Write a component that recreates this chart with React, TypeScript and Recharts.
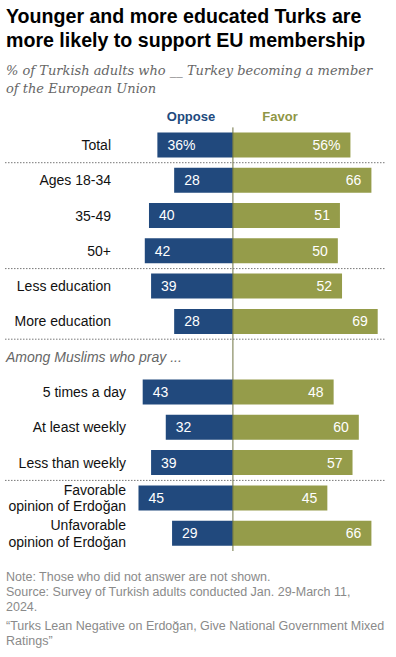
import { Bar, BarChart, LabelList, ReferenceLine, XAxis, YAxis } from "recharts";

const categories = [
  "Total",
  "Ages 18-34",
  "35-49",
  "50+",
  "Less education",
  "More education",
  "Among Muslims who pray ...",
  "5 times a day",
  "At least weekly",
  "Less than weekly",
  "Favorable opinion of Erdoğan",
  "Unfavorable opinion of Erdoğan",
];
const oppose = [36, 28, 40, 42, 39, 28, null, 43, 32, 39, 45, 29];
const favor = [56, 66, 51, 50, 52, 69, null, 48, 60, 57, 45, 66];

// rows that get a dotted rule above them
const dividers = [1, 4, 6, 10];

const OPPOSE = "#21497d";
const FAVOR = "#959c4a";
const FONT = "'Liberation Sans', Arial, sans-serif";

const data = categories.map((name, i) => ({
  name,
  oppose: oppose[i] == null ? null : -(oppose[i] as number),
  favor: favor[i],
}));

const BAND = 423.6 / categories.length;

function CategoryTick(props: any) {
  const { y, payload, index } = props;
  const label: string = payload.value;
  const items = [];
  if (dividers.includes(index)) {
    items.push(
      <line
        key="d"
        x1={5}
        x2={386}
        y1={y - BAND / 2}
        y2={y - BAND / 2}
        stroke="#777"
        strokeDasharray="1.5 1.5"
      />
    );
  }
  if (index === 6) {
    items.push(
      <text key="t" x={6} y={y} dy="0.35em" fontSize={14} fontStyle="italic" fill="#666" fontFamily={FONT}>
        {label}
      </text>
    );
  } else {
    const right = index < 6 ? 111 : 126;
    const parts = label.includes(" opinion")
      ? [label.slice(0, label.indexOf(" opinion")), label.slice(label.indexOf(" opinion") + 1)]
      : [label];
    items.push(
      <text key="t" x={right} y={y} textAnchor="end" fontSize={14} fill="#111" fontFamily={FONT}>
        {parts.map((p, k) => (
          <tspan key={k} x={right} dy={k === 0 ? (parts.length === 1 ? "0.35em" : "-0.25em") : "1.2em"}>
            {p}
          </tspan>
        ))}
      </text>
    );
  }
  return <g>{items}</g>;
}

function valueLabel(side: "left" | "right") {
  return (props: any) => {
    const { x, y, width, height, value, index } = props;
    if (value == null) return null;
    const left = Math.min(x, x + width);
    const right = Math.max(x, x + width);
    const text = `${Math.abs(value)}${index === 0 ? "%" : ""}`;
    return (
      <text
        x={side === "left" ? left + 10 : right - 10}
        y={y + height / 2}
        dy="0.35em"
        textAnchor={side === "left" ? "start" : "end"}
        fill="#fff"
        fontSize={14}
        fontFamily={FONT}
      >
        {text}
      </text>
    );
  };
}

export default function App() {
  return (
    <div
      style={{
        position: "absolute",
        left: 0,
        top: 0,
        width: 396,
        height: 657,
        background: "#fff",
        fontFamily: FONT,
        overflow: "hidden",
      }}
    >
      <div
        style={{
          position: "absolute",
          left: 6,
          top: 4,
          fontSize: 19.6,
          lineHeight: "24px",
          fontWeight: "bold",
          color: "#000",
          whiteSpace: "nowrap",
        }}
      >
        Younger and more educated Turks are
        <br />
        more likely to support EU membership
      </div>
      <div
        style={{
          position: "absolute",
          left: 6,
          top: 62,
          fontSize: 13,
          lineHeight: "18px",
          fontStyle: "italic",
          fontFamily: "'DejaVu Serif', Georgia, serif",
          color: "#666",
          whiteSpace: "nowrap",
        }}
      >
        % of Turkish adults who __ Turkey becoming a member
        <br />
        of the European Union
      </div>
      <div
        style={{
          position: "absolute",
          left: 191,
          top: 109,
          transform: "translateX(-50%)",
          fontSize: 13,
          fontWeight: "bold",
          color: OPPOSE,
        }}
      >
        Oppose
      </div>
      <div
        style={{
          position: "absolute",
          left: 280,
          top: 109,
          transform: "translateX(-50%)",
          fontSize: 13,
          fontWeight: "bold",
          color: "#8f9646",
        }}
      >
        Favor
      </div>
      <div style={{ position: "absolute", left: 0, top: 0 }}>
        <BarChart
          width={396}
          height={657}
          data={data}
          layout="vertical"
          stackOffset="sign"
          barCategoryGap={0}
          margin={{ top: 127.4, right: 12, bottom: 106, left: 0 }}
        >
          <XAxis type="number" hide domain={[-50, 72]} allowDataOverflow />
          <YAxis
            type="category"
            dataKey="name"
            width={128}
            axisLine={false}
            tickLine={false}
            interval={0}
            tick={<CategoryTick />}
          />
          <Bar dataKey="oppose" stackId="a" fill={OPPOSE} barSize={25} isAnimationActive={false}>
            <LabelList dataKey="oppose" content={valueLabel("left")} />
          </Bar>
          <Bar dataKey="favor" stackId="a" fill={FAVOR} barSize={25} isAnimationActive={false}>
            <LabelList dataKey="favor" content={valueLabel("right")} />
          </Bar>
          <ReferenceLine x={0} stroke="#6f7340" strokeWidth={1} />
        </BarChart>
      </div>
      <div
        style={{
          position: "absolute",
          left: 6,
          top: 570,
          fontSize: 12.5,
          lineHeight: "15px",
          color: "#8a8a8a",
          whiteSpace: "nowrap",
        }}
      >
        Note: Those who did not answer are not shown.
        <br />
        Source: Survey of Turkish adults conducted Jan. 29-March 11,
        <br />
        2024.
        <div style={{ marginTop: 4 }}>
          “Turks Lean Negative on Erdoğan, Give National Government Mixed
          <br />
          Ratings”
        </div>
      </div>
    </div>
  );
}
